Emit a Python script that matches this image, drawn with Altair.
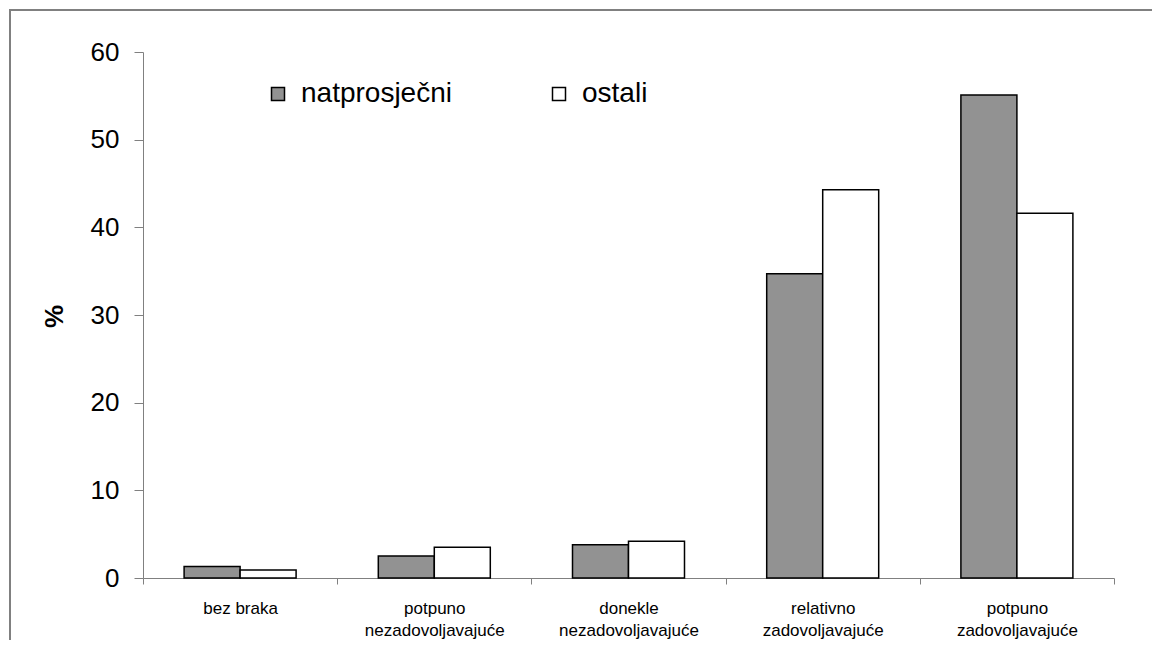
import altair as alt
import pandas as pd

categories = [
    "bez braka",
    "potpuno|nezadovoljavajuće",
    "donekle|nezadovoljavajuće",
    "relativno|zadovoljavajuće",
    "potpuno|zadovoljavajuće",
]
series = ["natprosječni", "ostali"]
natprosjecni = [1.3, 2.5, 3.8, 34.7, 55.1]
ostali = [0.9, 3.5, 4.2, 44.3, 41.6]
y_ticks = [0, 10, 20, 30, 40, 50, 60]

rows = []
for c, a, b in zip(categories, natprosjecni, ostali):
    rows.append({"kategorija": c, "skupina": series[0], "postotak": a})
    rows.append({"kategorija": c, "skupina": series[1], "postotak": b})
df = pd.DataFrame(rows)

# plot area deliberately larger than the visible page: right and bottom
# frame edges fall outside the clipped drawing (the reference frame runs off the picture)
W, H = 1166, 650
X0, X1 = 133, 1104
Y0, Y1 = 568, 42
GRAY_AXIS = "#808080"

chart = (
    alt.Chart(df)
    .mark_bar(stroke="black", strokeWidth=1.5)
    .encode(
        x=alt.X(
            "kategorija:N",
            sort=categories,
            scale=alt.Scale(range=[X0, X1], paddingInner=0, paddingOuter=0),
            axis=alt.Axis(
                title=None,
                orient="bottom",
                offset=-(H - Y0),
                tickBand="extent",
                labelAngle=0,
                labelExpr="split(datum.label, '|')",
                labelFontSize=17,
                labelLineHeight=22,
                labelPadding=16,
                labelBaseline="top",
                labelLimit=400,
                labelColor="black",
                tickSize=6,
                domainColor=GRAY_AXIS,
                tickColor=GRAY_AXIS,
                grid=False,
            ),
        ),
        xOffset=alt.XOffset(
            "skupina:N",
            sort=series,
            scale=alt.Scale(paddingInner=0, paddingOuter=0.734),
        ),
        y=alt.Y(
            "postotak:Q",
            scale=alt.Scale(domain=[0, 60], range=[Y0, Y1], nice=False),
            axis=alt.Axis(
                title="%",
                values=y_ticks,
                offset=-X0,
                grid=False,
                labelFontSize=26,
                labelPadding=15,
                labelColor="black",
                tickSize=9,
                domainColor=GRAY_AXIS,
                tickColor=GRAY_AXIS,
                titleFontSize=26,
                titleFontWeight="bold",
                titleColor="black",
                titleX=-89,
                titleY=306,
                titleAngle=270,
                titleAlign="center",
                titleBaseline="middle",
            ),
        ),
        color=alt.Color(
            "skupina:N",
            sort=series,
            scale=alt.Scale(domain=series, range=["#929292", "#ffffff"]),
            legend=alt.Legend(
                title=None,
                orient="none",
                legendX=254,
                legendY=70,
                direction="horizontal",
                symbolType="square",
                symbolSize=169,
                symbolStrokeColor="black",
                symbolStrokeWidth=1.5,
                symbolOpacity=1,
                labelFontSize=28,
                labelOffset=9,
                labelColor="black",
                columnPadding=93,
                labelLimit=400,
                padding=0,
            ),
        ),
    )
    .properties(
        width=W,
        height=H,
        autosize=alt.AutoSizeParams(type="none"),
        padding={"left": 2, "top": 2, "right": -24, "bottom": -20},
        background="white",
    )
    .configure(font="Liberation Sans")
    .configure_view(stroke=GRAY_AXIS, strokeWidth=2)
)

chart.save("out.html", embed_options={"renderer": "svg", "actions": False})
